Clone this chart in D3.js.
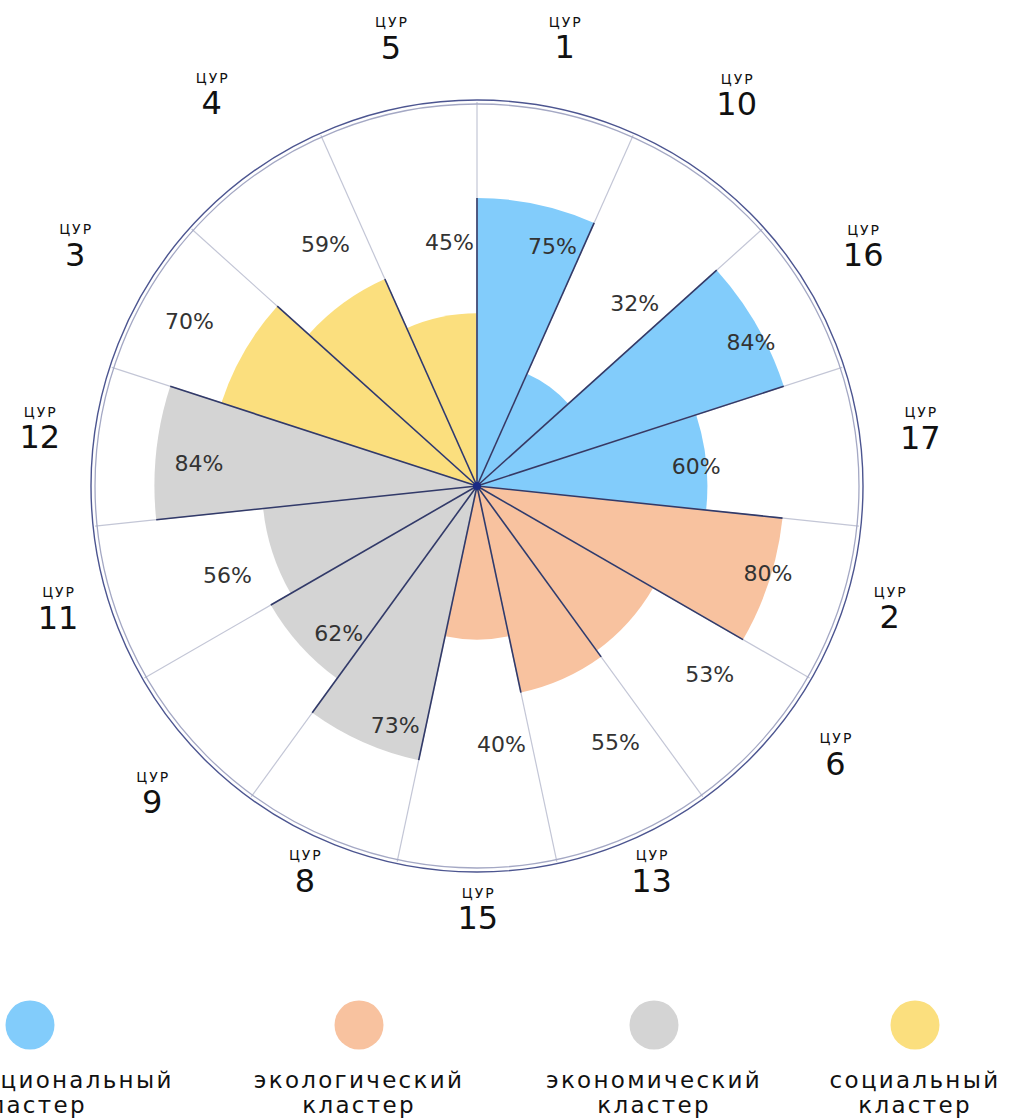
<!DOCTYPE html>
<html>
<head>
<meta charset="utf-8">
<script src="https://cdn.jsdelivr.net/npm/d3@7"></script>
<style>
  html, body { margin: 0; padding: 0; background: #fff; }
  svg { display: block; }
  .pct { font-family: "DejaVu Sans", sans-serif; font-size: 22px; fill: #333; }
  .goal-small { font-family: "DejaVu Sans", sans-serif; font-size: 14px; fill: #111; letter-spacing: 2px; }
  .goal-num { font-family: "DejaVu Sans", sans-serif; font-size: 32px; fill: #111; }
  .legend-text { font-family: "DejaVu Sans", sans-serif; font-size: 23px; fill: #111; letter-spacing: 2.3px; }
</style>
</head>
<body>
<div id="chart"></div>
<script>
// sectors clockwise from 12 o'clock
var goals = ["1", "10", "16", "17", "2", "6", "13", "15", "8", "9", "11", "12", "3", "4", "5"];
var values = [75, 32, 84, 60, 80, 53, 55, 40, 73, 62, 56, 84, 70, 59, 45];
var goalCluster = ["inst", "inst", "inst", "inst", "eco", "eco", "eco", "eco",
                   "econ", "econ", "econ", "econ", "soc", "soc", "soc"];

var clusters = ["inst", "eco", "econ", "soc"];
var clusterNames = [["институциональный", "кластер"], ["экологический", "кластер"],
                    ["экономический", "кластер"], ["социальный", "кластер"]];
var clusterColors = ["#82ccfb", "#f8c29f", "#d4d4d4", "#fbdf7e"];

// layout tweaks: label distances (share of radius / px), small angle nudges (deg), legend x
var pctLabelPos = [0.64, 0.59, 0.75, 0.51, 0.73, 0.73, 0.73, 0.67, 0.68, 0.57, 0.75, 0.79, 0.92, 0.78, 0.65];
var pctLabelNudge = [0, 0, 0, 0, 0, 0, 0, 0, 0, 0, 0, -1.5, -2, 0, 0];
var goalLabelR = [448, 462, 450, 446, 433, 453, 431, 432, 430, 453, 439, 440, 464, 466, 447];
var goalLabelNudge = [-0.7, -1.8, -0.9, -0.3, -0.4, -4.3, 0.1, -0.1, -0.4, -2.2, 0.6, 0.4, 0, 1.3, 0.9];
var legendX = [30, 359, 654, 915];

var width = 1010, height = 1118;
var cx = 477, cy = 486, R = 384;

var svg = d3.select("#chart").append("svg")
    .attr("width", width)
    .attr("height", height);

var g = svg.append("g")
    .attr("transform", "translate(" + cx + "," + cy + ")");

var angle = d3.scaleBand().domain(goals).range([0, 2 * Math.PI]).padding(0);
var r = d3.scaleLinear().domain([0, 100]).range([0, R]);
var color = d3.scaleOrdinal().domain(clusters).range(clusterColors);

var deg = Math.PI / 180;
var data = goals.map(function(d, i) {
    return { goal: d, value: values[i], cluster: goalCluster[i],
             labelPos: pctLabelPos[i], labelNudge: pctLabelNudge[i] * deg,
             goalR: goalLabelR[i], nudge: goalLabelNudge[i] * deg };
});

function pt(a, rad) {
    return [rad * Math.sin(a), -rad * Math.cos(a)];
}
function mid(d) { return angle(d.goal) + angle.bandwidth() / 2; }

// wedges
var arc = d3.arc()
    .innerRadius(0)
    .outerRadius(function(d) { return r(d.value); })
    .startAngle(function(d) { return angle(d.goal); })
    .endAngle(function(d) { return angle(d.goal) + angle.bandwidth(); });

g.selectAll("path.wedge")
    .data(data)
    .enter().append("path")
    .attr("class", "wedge")
    .attr("d", arc)
    .style("fill", function(d) { return color(d.cluster); });

// light radial grid lines
g.selectAll("line.grid")
    .data(data)
    .enter().append("line")
    .attr("class", "grid")
    .attr("x1", 0).attr("y1", 0)
    .attr("x2", function(d) { return pt(angle(d.goal), R)[0]; })
    .attr("y2", function(d) { return pt(angle(d.goal), R)[1]; })
    .style("stroke", "#c3c6d6")
    .style("stroke-width", 1.2);

// dark edges along coloured wedges
data.forEach(function(d, i) {
    var prev = data[(i - 1 + data.length) % data.length];
    var len = r(Math.max(d.value, prev.value));
    var p = pt(angle(d.goal), len);
    g.append("line")
        .attr("x1", 0).attr("y1", 0)
        .attr("x2", p[0]).attr("y2", p[1])
        .style("stroke", "#323a68")
        .style("stroke-width", 1.6);
});

// outer double ring
g.append("circle").attr("r", R - 2)
    .style("fill", "none").style("stroke", "#a4a8c4").style("stroke-width", 1.3);
g.append("circle").attr("r", R + 2)
    .style("fill", "none").style("stroke", "#4c5590").style("stroke-width", 1.4);

g.append("circle").attr("r", 4).style("fill", "#1a2a85");

// percent labels
g.selectAll("text.pct")
    .data(data)
    .enter().append("text")
    .attr("class", "pct")
    .attr("x", function(d) { return pt(mid(d) + d.labelNudge, d.labelPos * R)[0]; })
    .attr("y", function(d) { return pt(mid(d) + d.labelNudge, d.labelPos * R)[1]; })
    .attr("dy", "0.38em")
    .style("text-anchor", "start")
    .text(function(d) { return d.value + "%"; });

// goal labels
var gl = g.selectAll("g.goal")
    .data(data)
    .enter().append("g")
    .attr("class", "goal")
    .attr("transform", function(d) {
        var p = pt(mid(d) + d.nudge, d.goalR);
        return "translate(" + p[0] + "," + p[1] + ")";
    });
gl.append("text")
    .attr("class", "goal-small")
    .attr("x", 1)
    .attr("y", -20)
    .style("text-anchor", "middle")
    .text("ЦУР");
gl.append("text")
    .attr("class", "goal-num")
    .attr("y", 11.5)
    .style("text-anchor", "middle")
    .text(function(d) { return d.goal; });

// legend
var legend = svg.selectAll("g.legend")
    .data(clusters)
    .enter().append("g")
    .attr("class", "legend")
    .attr("transform", function(d, i) { return "translate(" + legendX[i] + ",0)"; });

legend.append("circle")
    .attr("cy", 1025)
    .attr("r", 24.5)
    .style("fill", function(d) { return color(d); });

legend.each(function(d, i) {
    var t = d3.select(this).append("text")
        .attr("class", "legend-text")
        .style("text-anchor", "middle");
    t.append("tspan").attr("x", 0).attr("y", 1088).text(clusterNames[i][0]);
    t.append("tspan").attr("x", 0).attr("y", 1113).text(clusterNames[i][1]);
});
</script>
</body>
</html>
